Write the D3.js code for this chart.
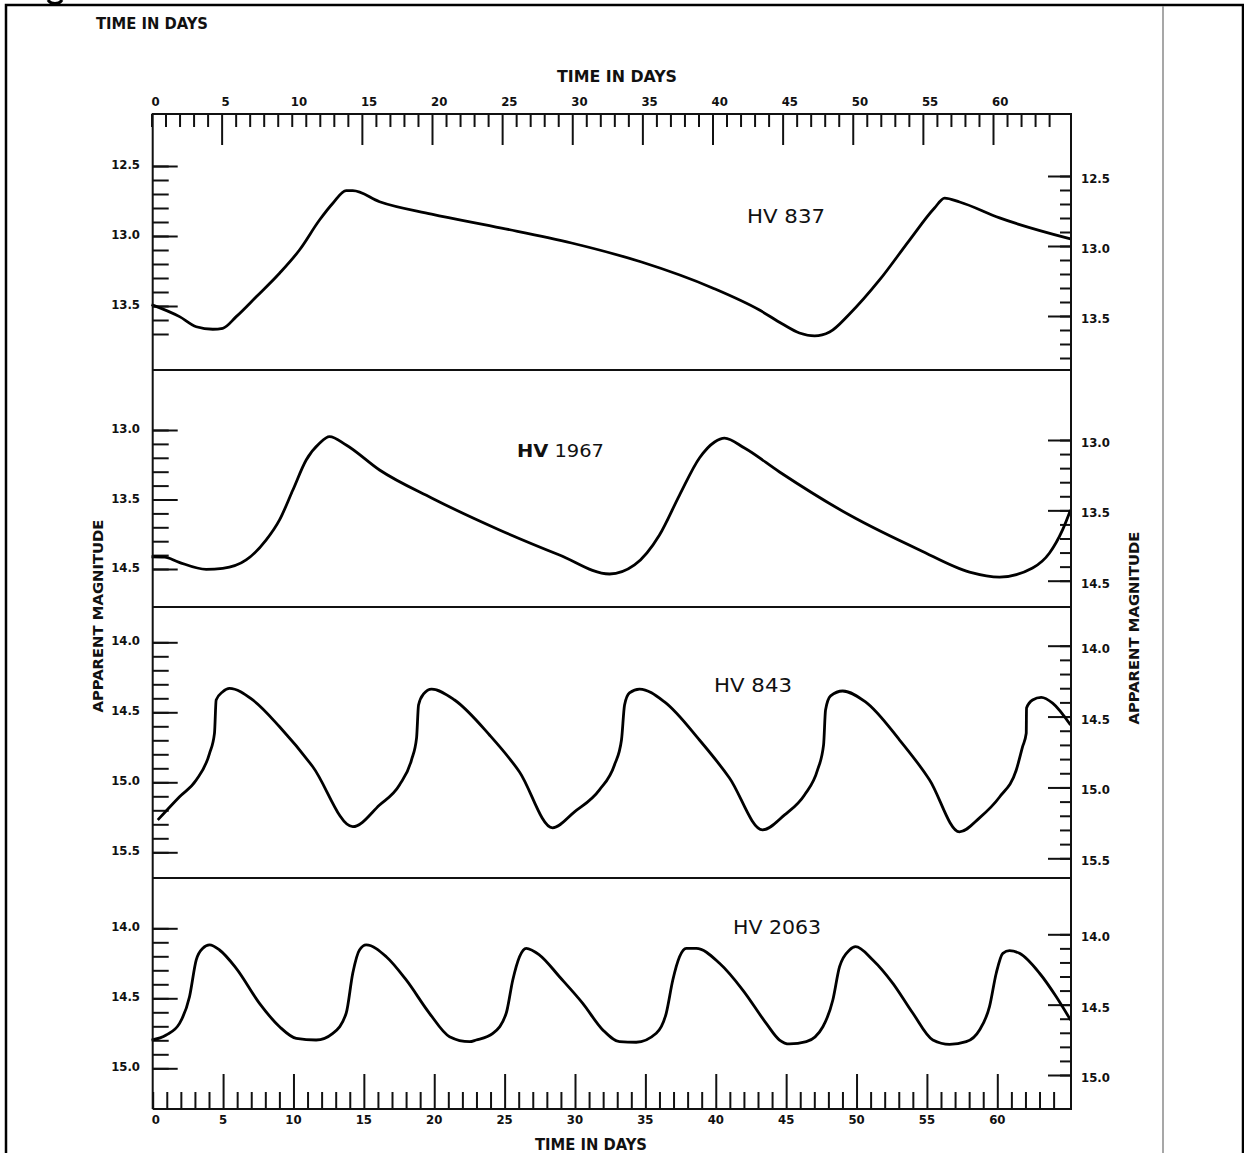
<!DOCTYPE html>
<html>
<head>
<meta charset="utf-8">
<script src="https://cdn.jsdelivr.net/npm/d3@7"></script>
<style>
  body { margin: 0; background: #fff; }
  svg text { font-family: "DejaVu Sans Condensed", "DejaVu Sans", sans-serif; font-weight: bold; fill: #111; }
  .tick line { stroke: #111; stroke-width: 2; }
</style>
</head>
<body>
<div id="chart"></div>
<script>
var svgWidth = 1244;
var svgHeight = 1153;

// time axis (days)
var dayTicks = d3.range(0, 65);
var dayLabels = [0, 5, 10, 15, 20, 25, 30, 35, 40, 45, 50, 55, 60];
var topMajor = [5, 15, 20, 25, 30, 35, 40, 45, 50, 55, 60];
var bottomMajor = [5, 10, 15, 20, 25, 30, 35, 40, 45, 50, 55, 60];

// HV 837
var hv837Day = [0, 2.0, 3.19, 4.37, 5.08, 6.04, 7.47, 9.13, 10.55, 11.98, 12.93, 13.88, 14.35, 16.26, 19.97, 24.96, 29.95, 34.94, 40.0, 43.35, 44.99, 46.2, 47.28, 48.35, 49.77, 51.91, 54.05, 55.83, 56.55, 57.62, 60.47, 65.53];
var hv837Mag = [13.49, 13.576, 13.648, 13.666, 13.659, 13.576, 13.434, 13.266, 13.10, 12.886, 12.766, 12.676, 12.676, 12.755, 12.843, 12.943, 13.05, 13.186, 13.371, 13.529, 13.629, 13.693, 13.714, 13.686, 13.557, 13.314, 13.029, 12.80, 12.729, 12.757, 12.871, 13.021];

// HV 1967
var hv1967Day = [0, 0.93, 1.93, 3.9, 5.08, 6.75, 8.18, 9.13, 10.08, 11.03, 11.98, 12.69, 13.88, 16.26, 19.97, 24.81, 29.09, 32.66, 34.44, 36.22, 37.65, 39.07, 40.15, 40.86, 42.28, 44.78, 49.77, 54.76, 58.33, 60.47, 62.82, 64.03, 64.96, 65.53];
var hv1967Mag = [13.912, 13.914, 13.95, 14.002, 13.995, 13.935, 13.791, 13.647, 13.432, 13.216, 13.096, 13.048, 13.108, 13.288, 13.489, 13.719, 13.899, 14.036, 13.971, 13.755, 13.468, 13.201, 13.086, 13.058, 13.13, 13.302, 13.612, 13.863, 14.022, 14.058, 13.993, 13.885, 13.719, 13.576];

// HV 843
var hv843Day = [0.45, 2.0, 3.19, 4.14, 4.49, 4.61, 5.08, 5.56, 7.22, 9.13, 11.5, 14.35, 16.26, 17.68, 18.54, 18.9, 19.04, 19.4, 19.97, 21.61, 24.1, 26.24, 28.59, 30.16, 31.94, 33.01, 33.51, 33.73, 34.08, 34.8, 36.58, 39.07, 41.21, 43.57, 45.14, 46.56, 47.49, 47.92, 48.06, 48.42, 49.28, 50.91, 53.34, 55.48, 57.61, 59.04, 60.47, 61.66, 62.11, 62.37, 62.39, 62.82, 63.44, 64.25, 65.53];
var hv843Mag = [15.269, 15.103, 14.984, 14.793, 14.65, 14.412, 14.353, 14.329, 14.412, 14.603, 14.889, 15.317, 15.162, 15.019, 14.84, 14.683, 14.448, 14.369, 14.334, 14.412, 14.662, 14.926, 15.325, 15.211, 15.054, 14.876, 14.698, 14.448, 14.362, 14.334, 14.426, 14.698, 14.969, 15.34, 15.233, 15.09, 14.912, 14.733, 14.483, 14.383, 14.348, 14.426, 14.698, 14.983, 15.354, 15.254, 15.105, 14.912, 14.746, 14.65, 14.469, 14.412, 14.393, 14.434, 14.591];

// HV 2063
var hv2063Day = [0, 1.05, 2.0, 2.71, 3.19, 3.66, 4.14, 4.85, 6.04, 7.7, 9.13, 10.32, 11.74, 12.93, 13.88, 14.35, 14.83, 15.31, 16.74, 18.16, 19.82, 21.25, 22.68, 23.15, 24.34, 25.29, 25.76, 26.24, 26.72, 27.67, 29.09, 30.75, 32.18, 33.37, 34.56, 35.99, 36.7, 37.17, 37.65, 38.13, 38.84, 40.5, 42.16, 43.83, 44.78, 45.49, 46.69, 47.87, 48.58, 49.06, 49.77, 50.2, 51.43, 52.86, 54.29, 55.71, 56.9, 58.09, 59.04, 59.75, 60.23, 60.7, 61.18, 61.89, 63.32, 64.51, 65.53];
var hv2063Mag = [14.798, 14.762, 14.679, 14.489, 14.226, 14.143, 14.119, 14.155, 14.286, 14.536, 14.703, 14.786, 14.798, 14.75, 14.607, 14.321, 14.155, 14.119, 14.203, 14.369, 14.607, 14.774, 14.81, 14.798, 14.75, 14.607, 14.369, 14.203, 14.143, 14.191, 14.346, 14.536, 14.726, 14.81, 14.814, 14.75, 14.607, 14.369, 14.203, 14.143, 14.143, 14.25, 14.441, 14.679, 14.798, 14.826, 14.81, 14.703, 14.512, 14.274, 14.155, 14.131, 14.226, 14.393, 14.607, 14.798, 14.829, 14.81, 14.726, 14.56, 14.321, 14.179, 14.16, 14.179, 14.321, 14.489, 14.655];

// magnitude ticks per panel
var hv837Ticks = [12.5, 13.0, 13.5];
var hv837Labels = ["12.5", "13.0", "13.5"];
var hv1967Ticks = [13.0, 13.5, 14.0];
var hv1967Labels = ["13.0", "13.5", "14.5"];
var hv843Ticks = [14.0, 14.5, 15.0, 15.5];
var hv843Labels = ["14.0", "14.5", "15.0", "15.5"];
var hv2063Ticks = [14.0, 14.5, 15.0];
var hv2063Labels = ["14.0", "14.5", "15.0"];

var plotLeft = 152.7, plotRight = 1071;
var plotTop = 114, plotBottom = 1109;

var svg = d3.select("#chart")
  .append("svg")
  .attr("width", svgWidth)
  .attr("height", svgHeight);

// x scales (top and bottom rulers were drawn a little apart)
var xTop = d3.scaleLinear().domain([0, 60]).range([151.5, 993]);
var xBot = d3.scaleLinear().domain([0, 60]).range([152.7, 997.3]);

function step(a, b) {
  return d3.range(Math.round(a * 10), Math.round(b * 10) + 1).map(d => d / 10);
}

var panels = [
  { day: hv837Day, mag: hv837Mag, ticks: hv837Ticks, labels: hv837Labels,
    dom: [12.5, 13.5], rL: [166, 306], rR: [176, 316], minL: [12.5, 13.7], minR: [12.5, 13.8] },
  { day: hv1967Day, mag: hv1967Mag, ticks: hv1967Ticks, labels: hv1967Labels,
    dom: [13.0, 14.0], rL: [430, 569], rR: [440, 580.7], minL: [13.0, 14.0], minR: [13.0, 14.0] },
  { day: hv843Day, mag: hv843Mag, ticks: hv843Ticks, labels: hv843Labels,
    dom: [14.0, 15.5], rL: [642.3, 852.3], rR: [645.7, 858.3], minL: [14.0, 15.5], minR: [14.0, 15.5] },
  { day: hv2063Day, mag: hv2063Mag, ticks: hv2063Ticks, labels: hv2063Labels,
    dom: [14.0, 15.0], rL: [928.3, 1068.3], rR: [934.3, 1075], minL: [14.0, 15.0], minR: [14.0, 15.0] }
];

// outer page frame
svg.append("path")
  .attr("d", `M6,${svgHeight} V5 H1243 V${svgHeight}`)
  .attr("fill", "none")
  .attr("stroke", "#000")
  .attr("stroke-width", 2.5);

svg.append("line")
  .attr("x1", 1163).attr("x2", 1163)
  .attr("y1", 6).attr("y2", svgHeight)
  .attr("stroke", "#8a8a8a")
  .attr("stroke-width", 1.5);

// bit of the cropped heading's descender above the frame
svg.append("path")
  .attr("d", "M48,0 Q50,3.5 55,3.5 Q60,3.5 62,0")
  .attr("fill", "none")
  .attr("stroke", "#000")
  .attr("stroke-width", 3);

function noDomain(g) { g.select(".domain").remove(); }

// top ruler
svg.append("g")
  .attr("transform", `translate(0, ${plotTop})`)
  .call(d3.axisBottom(xTop).tickValues(dayTicks.filter(d => topMajor.indexOf(d) < 0)).tickSize(13).tickFormat(""))
  .call(noDomain);
svg.append("g")
  .attr("transform", `translate(0, ${plotTop})`)
  .call(d3.axisBottom(xTop).tickValues(topMajor).tickSize(31).tickFormat(""))
  .call(noDomain);

svg.selectAll(".topLabel")
  .data(dayLabels)
  .enter()
  .append("text")
  .attr("x", d => d < 10 ? xTop(d) + 4 : xTop(d) - 1)
  .attr("y", 106)
  .attr("text-anchor", d => d < 10 ? "middle" : "start")
  .style("font-size", "13px")
  .text(d => d);

// bottom ruler
svg.append("g")
  .attr("transform", `translate(0, ${plotBottom})`)
  .call(d3.axisTop(xBot).tickValues(dayTicks.filter(d => bottomMajor.indexOf(d) < 0)).tickSize(17).tickFormat(""))
  .call(noDomain);
svg.append("g")
  .attr("transform", `translate(0, ${plotBottom})`)
  .call(d3.axisTop(xBot).tickValues(bottomMajor).tickSize(35).tickFormat(""))
  .call(noDomain);

svg.selectAll(".botLabel")
  .data(dayLabels)
  .enter()
  .append("text")
  .attr("x", d => d === 0 ? xBot(d) + 3 : xBot(d))
  .attr("y", 1124)
  .attr("text-anchor", "middle")
  .style("font-size", "13px")
  .text(d => d);

// panels
panels.forEach(function(p) {
  var yL = d3.scaleLinear().domain(p.dom).range(p.rL);
  var yR = d3.scaleLinear().domain(p.dom).range(p.rR);

  // left ticks
  svg.append("g")
    .attr("transform", `translate(${plotLeft}, 0)`)
    .call(d3.axisRight(yL).tickValues(step(p.minL[0], p.minL[1])).tickSize(16).tickFormat(""))
    .call(noDomain);
  svg.append("g")
    .attr("transform", `translate(${plotLeft}, 0)`)
    .call(d3.axisRight(yL).tickValues(p.ticks).tickSize(25).tickFormat(""))
    .call(noDomain);

  // right ticks
  svg.append("g")
    .attr("transform", `translate(${plotRight}, 0)`)
    .call(d3.axisLeft(yR).tickValues(step(p.minR[0], p.minR[1])).tickSize(11).tickFormat(""))
    .call(noDomain);
  svg.append("g")
    .attr("transform", `translate(${plotRight}, 0)`)
    .call(d3.axisLeft(yR).tickValues(p.ticks).tickSize(23).tickFormat(""))
    .call(noDomain);

  p.ticks.forEach(function(t, i) {
    svg.append("text")
      .attr("x", 140)
      .attr("y", yL(t) + 3)
      .attr("text-anchor", "end")
      .style("font-size", "13px")
      .text(p.labels[i]);
    svg.append("text")
      .attr("x", 1081)
      .attr("y", yR(t) + 7)
      .style("font-size", "13px")
      .text(p.labels[i]);
  });

  var line = d3.line()
    .x((d, i) => xTop(p.day[i]))
    .y((d, i) => yL(p.mag[i]))
    .curve(d3.curveMonotoneX);

  svg.append("path")
    .datum(p.day)
    .attr("d", line)
    .attr("fill", "none")
    .attr("stroke", "#000")
    .attr("stroke-width", 2.8)
    .attr("stroke-linejoin", "round");
});

// plot frame and panel dividers
var frame = svg.append("g").attr("stroke", "#111").attr("stroke-width", 2).attr("fill", "none");
frame.append("path").attr("d", `M${plotLeft},${plotBottom} V${plotTop} H${plotRight} V${plotBottom} H${plotLeft}`);
[370, 607, 878].forEach(function(y) {
  frame.append("line").attr("x1", plotLeft).attr("x2", plotRight).attr("y1", y).attr("y2", y);
});

// titles
svg.append("text").attr("x", 96).attr("y", 29)
  .attr("textLength", 112).attr("lengthAdjust", "spacingAndGlyphs")
  .style("font-size", "16px").text("TIME IN DAYS");
svg.append("text").attr("x", 557).attr("y", 82)
  .attr("textLength", 120).attr("lengthAdjust", "spacingAndGlyphs")
  .style("font-size", "16px").text("TIME IN DAYS");
svg.append("text").attr("x", 535).attr("y", 1150)
  .attr("textLength", 112).attr("lengthAdjust", "spacingAndGlyphs")
  .style("font-size", "16px").text("TIME IN DAYS");

svg.append("text")
  .attr("transform", "translate(103, 616) rotate(-90)")
  .attr("text-anchor", "middle")
  .attr("textLength", 193).attr("lengthAdjust", "spacingAndGlyphs")
  .style("font-size", "14px")
  .text("APPARENT MAGNITUDE");
svg.append("text")
  .attr("transform", "translate(1139, 628) rotate(-90)")
  .attr("text-anchor", "middle")
  .attr("textLength", 193).attr("lengthAdjust", "spacingAndGlyphs")
  .style("font-size", "14px")
  .text("APPARENT MAGNITUDE");

// star names
var names = [
  { x: 747, y: 223, w: 78, t: "HV 837" },
  { x: 714, y: 692, w: 78, t: "HV 843" },
  { x: 733, y: 934, w: 88, t: "HV 2063" }
];
names.forEach(function(n) {
  svg.append("text").attr("x", n.x).attr("y", n.y)
    .attr("textLength", n.w).attr("lengthAdjust", "spacingAndGlyphs")
    .style("font-size", "19px").style("font-weight", "normal")
    .text(n.t);
});
var hv1967 = svg.append("text").attr("x", 517).attr("y", 457)
  .attr("textLength", 87).attr("lengthAdjust", "spacingAndGlyphs")
  .style("font-size", "18px");
hv1967.append("tspan").style("font-weight", "bold").text("HV");
hv1967.append("tspan").style("font-weight", "normal").text(" 1967");
</script>
</body>
</html>
